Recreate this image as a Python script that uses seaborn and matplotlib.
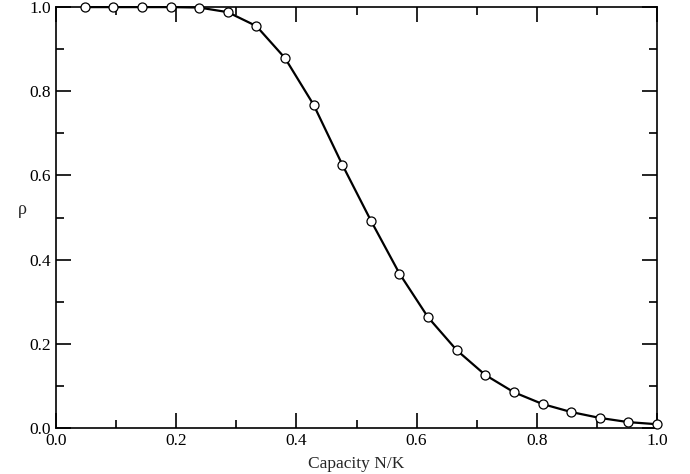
import numpy as np
import pandas as pd
import matplotlib
matplotlib.use("Agg")
import matplotlib.pyplot as plt
import seaborn as sns
from matplotlib.ticker import MultipleLocator

# data
capacity = [1/21, 2/21, 3/21, 4/21, 5/21, 6/21, 7/21, 8/21, 9/21, 10/21, 11/21,
            12/21, 13/21, 14/21, 15/21, 16/21, 17/21, 18/21, 19/21, 20/21, 1.0]
rho = [1.0, 1.0, 1.0, 1.0, 0.999, 0.988, 0.955, 0.879, 0.768, 0.626, 0.493,
       0.367, 0.263, 0.185, 0.126, 0.085, 0.057, 0.038, 0.024, 0.014, 0.009]

df = pd.DataFrame({"capacity": capacity, "rho": rho})

sns.set_style("ticks")
plt.rcParams["font.family"] = ["Liberation Serif", "DejaVu Serif"]

fig = plt.figure(figsize=(6.9, 4.74), dpi=100)
ax = fig.add_axes([0.0812, 0.097, 0.871, 0.888])

sns.lineplot(data=df, x="capacity", y="rho", ax=ax, color="black", linewidth=1.6,
             marker="o", markersize=6.5, markerfacecolor="white",
             markeredgecolor="black", markeredgewidth=0.9, clip_on=False, zorder=3)

ax.set_xlim(0, 1)
ax.set_ylim(0, 1)
ax.xaxis.set_major_locator(MultipleLocator(0.2))
ax.xaxis.set_minor_locator(MultipleLocator(0.1))
ax.yaxis.set_major_locator(MultipleLocator(0.2))
ax.yaxis.set_minor_locator(MultipleLocator(0.1))
ax.tick_params(which="both", direction="in", top=True, right=True,
               labelsize=12.5, colors="black", width=1.2)
ax.tick_params(which="major", length=11)
ax.tick_params(which="minor", length=6)
for s in ax.spines.values():
    s.set_linewidth(1.2)
    s.set_color("black")
    s.set_visible(True)

ax.set_xlabel("Capacity N/K", fontsize=12.5)
ax.xaxis.set_label_coords(0.5, -0.066)
ax.set_ylabel("ρ", fontsize=13, rotation=0)
ax.yaxis.set_label_coords(-0.056, 0.5)

fig.savefig("out.png", dpi=100)
